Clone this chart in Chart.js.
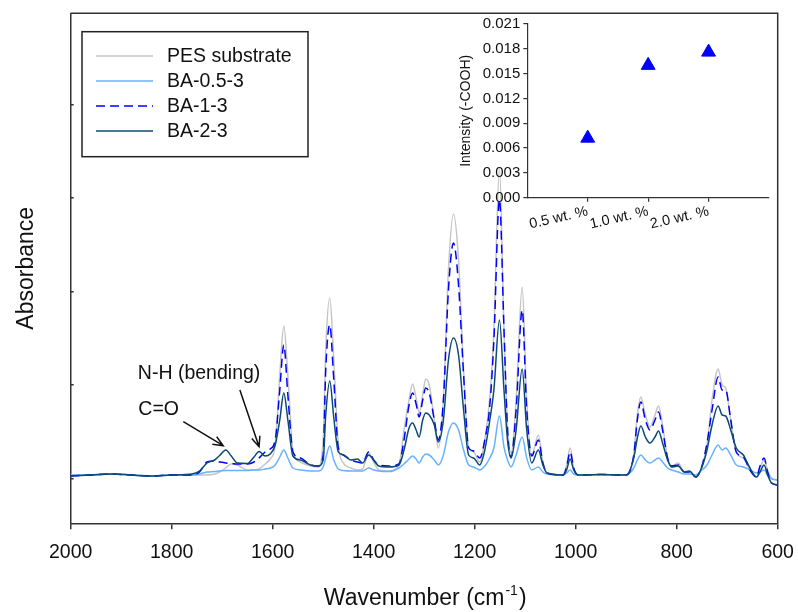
<!DOCTYPE html>
<html>
<head>
<meta charset="utf-8">
<script src="https://cdn.jsdelivr.net/npm/chart.js@4.4.1/dist/chart.umd.min.js"></script>
<style>
  html, body { margin: 0; padding: 0; background: #fff; }
  #wrap { position: relative; width: 798px; height: 612px; }
  #main { position: absolute; left: 0; top: 0; }
  #inset { position: absolute; left: 420px; top: 0; }
</style>
</head>
<body>
<div id="wrap">
  <canvas id="main" width="798" height="612"></canvas>
  <canvas id="inset" width="360" height="240"></canvas>
</div>
<script>
// FTIR spectra (absorbance, arbitrary units)
const wavenumbers = [2000,1960,1920,1880,1840,1800,1760,1745,1730,1715,1705,1693,1682,1670,1650,1637,1627,1615,1605,1595,
  1586,1578,1570,1560,1545,1525,1510,1500,1495,1487,1479,1470,1460,1445,1432,1422,1410,1400,1390,1370,
  1350,1340,1330,1323,1316,1310,1303,1297,1290,1280,1272,1262,1252,1242,1232,1222,1212,1202,1190,1180,
  1170,1162,1151,1142,1135,1128,1118,1106,1097,1087,1074,1065,1057,1025,1018,1011,1004,995,950,900,
  885,878,871,862,853,843,836,828,818,810,797,785,775,762,750,740,730,718,710,703,
  693,682,668,655,642,635,627,620,612,600];

const pesSubstrate = [.005,.005,.006,.005,.004,.005,.005,.005,.005,.006,.008,.012,.016,.015,.010,.010,.011,.016,.021,.035,
  .105,.154,.105,.030,.018,.014,.013,.040,.130,.182,.120,.035,.017,.012,.010,.011,.027,.018,.010,.009,
  .015,.050,.080,.096,.082,.067,.085,.101,.095,.060,.032,.080,.210,.266,.220,.110,.033,.028,.018,.040,
  .083,.150,.312,.150,.055,.027,.080,.193,.080,.025,.045,.018,.007,.005,.015,.032,.012,.005,.0055,.005,
  .025,.065,.083,.065,.053,.065,.074,.055,.022,.014,.017,.008,.008,.003,.014,.035,.080,.111,.095,.092,
  .060,.027,.022,.010,.003,.012,.020,.010,.002,.000];

const ba05 = [.005,.005,.006,.005,.004,.005,.005,.006,.008,.0085,.009,.0095,.0095,.0095,.0095,.010,.010,.011,.012,.015,
  .023,.030,.022,.012,.010,.009,.009,.013,.022,.034,.020,.011,.0095,.009,.009,.009,.012,.010,.009,.0085,
  .012,.016,.021,.024,.021,.017,.023,.026,.025,.020,.015,.025,.048,.057,.050,.030,.015,.013,.010,.014,
  .022,.032,.064,.033,.020,.013,.025,.043,.022,.010,.013,.008,.006,.005,.007,.010,.006,.005,.0055,.005,
  .012,.020,.025,.020,.017,.020,.022,.018,.012,.010,.008,.006,.006,.005,.010,.015,.025,.035,.030,.032,
  .025,.015,.013,.010,.007,.008,.010,.005,.001,.000];

const ba1 = [.004,.005,.006,.005,.004,.005,.005,.008,.018,.019,.018,.017,.0165,.016,.016,.018,.022,.028,.031,.040,
  .090,.135,.085,.028,.022,.015,.014,.025,.110,.155,.100,.032,.025,.020,.018,.017,.028,.020,.015,.014,
  .016,.040,.075,.087,.076,.063,.080,.092,.087,.060,.040,.080,.190,.237,.195,.105,.032,.029,.022,.040,
  .075,.140,.280,.150,.050,.023,.070,.170,.070,.024,.040,.017,.007,.005,.013,.028,.012,.005,.0055,.005,
  .025,.060,.078,.060,.050,.060,.068,.050,.022,.014,.015,.008,.008,.003,.014,.037,.070,.103,.090,.090,
  .060,.028,.023,.010,.003,.014,.022,.008,-.003,-.005];

const ba2 = [.004,.005,.006,.005,.004,.005,.006,.009,.017,.020,.0245,.030,.024,.017,.0165,.023,.0285,.024,.026,.035,
  .060,.087,.060,.024,.020,.015,.014,.020,.065,.099,.062,.028,.025,.020,.021,.017,.025,.020,.014,.013,
  .015,.030,.052,.057,.050,.043,.060,.067,.065,.055,.038,.060,.120,.142,.125,.070,.025,.022,.015,.030,
  .060,.090,.160,.090,.040,.022,.050,.111,.050,.017,.030,.015,.007,.005,.010,.021,.010,.005,.0055,.005,
  .022,.042,.054,.043,.037,.043,.049,.037,.020,.013,.014,.008,.009,.003,.013,.030,.055,.074,.065,.064,
  .050,.032,.025,.012,.003,.008,.015,.005,-.003,-.005];

const seriesNames = ['PES substrate', 'BA-0.5-3', 'BA-1-3', 'BA-2-3'];
const seriesValues = [pesSubstrate, ba05, ba1, ba2];
const seriesColors = ['#c4c4c4', '#66b2ff', '#0000ff', '#0a4a73'];
const seriesDash = [[], [], [9, 5], []];
const seriesOrder = [4, 3, 2, 1];

const xTicks = [2000, 1800, 1600, 1400, 1200, 1000, 800, 600];
const yTickValues = [0.0015, 0.095, 0.1885, 0.282, 0.3755];

// annotation labels (wavenumber, absorbance)
const notes = [
  { text: 'C=O', at: [1866, 0.070], from: [1777, 0.0583], to: [1698, 0.0343] },
  { text: 'N-H (bending)', at: [1867, 0.1067], from: [1665, 0.090], to: [1627, 0.0333] }
];

// inset
const loadings = ['0.5 wt. %', '1.0 wt. %', '2.0 wt. %'];
const coohIntensity = [0.0072, 0.0160, 0.0176];

const FONT = "'Liberation Sans', Arial, sans-serif";
const INK = '#111';
const AXIS = '#333';

const framePlugin = {
  id: 'frame',
  afterDraw(chart) {
    const { ctx, chartArea: a } = chart;
    ctx.save();
    ctx.strokeStyle = AXIS;
    ctx.lineWidth = 1.5;
    ctx.beginPath();
    ctx.moveTo(a.left, a.top);
    ctx.lineTo(a.right, a.top);
    ctx.lineTo(a.right, a.bottom);
    ctx.stroke();
    ctx.restore();
  }
};

const legendPlugin = {
  id: 'boxLegend',
  afterDraw(chart) {
    const { ctx, chartArea: a } = chart;
    const x0 = a.left + 11.3, y0 = a.top + 18.4;
    ctx.save();
    ctx.strokeStyle = '#222';
    ctx.lineWidth = 1.5;
    ctx.strokeRect(x0, y0, 226, 125);
    ctx.font = '19.5px ' + FONT;
    ctx.textBaseline = 'middle';
    ctx.fillStyle = INK;
    seriesNames.forEach((name, i) => {
      const y = y0 + 24.3 + 25 * i;
      ctx.strokeStyle = seriesColors[i];
      ctx.setLineDash(seriesDash[i]);
      ctx.beginPath();
      ctx.moveTo(x0 + 14, y);
      ctx.lineTo(x0 + 71, y);
      ctx.stroke();
      ctx.setLineDash([]);
      ctx.fillText(name, x0 + 85, y + 1);
    });
    ctx.restore();
  }
};

const notesPlugin = {
  id: 'notes',
  afterDraw(chart) {
    const { ctx } = chart;
    const sx = chart.scales.x, sy = chart.scales.y;
    const px = p => [sx.getPixelForValue(p[0]), sy.getPixelForValue(p[1])];
    ctx.save();
    ctx.font = '19.5px ' + FONT;
    ctx.fillStyle = INK;
    ctx.strokeStyle = INK;
    ctx.lineWidth = 1.5;
    ctx.textBaseline = 'middle';
    notes.forEach(n => {
      const [tx, ty] = px(n.at);
      ctx.fillText(n.text, tx, ty);
      const [x1, y1] = px(n.from);
      const [x2, y2] = px(n.to);
      const ang = Math.atan2(y2 - y1, x2 - x1);
      ctx.beginPath();
      ctx.moveTo(x1, y1);
      ctx.lineTo(x2, y2);
      ctx.moveTo(x2 - 11 * Math.cos(ang - 0.4), y2 - 11 * Math.sin(ang - 0.4));
      ctx.lineTo(x2, y2);
      ctx.lineTo(x2 - 11 * Math.cos(ang + 0.4), y2 - 11 * Math.sin(ang + 0.4));
      ctx.stroke();
    });
    ctx.restore();
  }
};

// x title with a real superscript
const xTitlePlugin = {
  id: 'xTitle',
  afterDraw(chart) {
    const { ctx, chartArea: a } = chart;
    const main = 'Wavenumber (cm', sup = '-1', close = ')';
    ctx.save();
    ctx.fillStyle = INK;
    ctx.textBaseline = 'alphabetic';
    const big = '23px ' + FONT, small = '14px ' + FONT;
    ctx.font = big;
    const w1 = ctx.measureText(main).width, w3 = ctx.measureText(close).width;
    ctx.font = small;
    const w2 = ctx.measureText(sup).width;
    let x = (a.left + a.right) / 2 - (w1 + w2 + w3) / 2;
    const base = chart.scales.x.top + 82;
    ctx.font = big;
    ctx.fillText(main, x, base);
    x += w1;
    ctx.font = small;
    ctx.fillText(sup, x + 1, base - 10);
    x += w2 + 2;
    ctx.font = big;
    ctx.fillText(close, x, base);
    ctx.restore();
  }
};

new Chart(document.getElementById('main'), {
  type: 'line',
  data: {
    datasets: seriesNames.map((name, i) => ({
      label: name,
      data: wavenumbers.map((w, j) => ({ x: w, y: seriesValues[i][j] })),
      borderColor: seriesColors[i],
      borderDash: seriesDash[i],
      order: seriesOrder[i]
    }))
  },
  options: {
    responsive: false,
    animation: false,
    devicePixelRatio: 1,
    layout: { padding: { top: 13.3, right: 20.3, left: 0, bottom: 0 } },
    plugins: { legend: { display: false }, tooltip: { enabled: false } },
    elements: {
      point: { radius: 0 },
      line: { borderWidth: 1.5, cubicInterpolationMode: 'monotone', fill: false }
    },
    scales: {
      x: {
        type: 'linear', reverse: true, min: 600, max: 2000,
        afterBuildTicks: s => { s.ticks = xTicks.map(v => ({ value: v })); },
        ticks: { callback: v => String(v), color: INK, font: { family: FONT, size: 19.5 }, padding: 12, maxRotation: 0 },
        grid: { drawOnChartArea: false, tickLength: 6, color: AXIS, lineWidth: 1.5 },
        border: { color: AXIS, width: 1.5 },
        afterFit: s => { s.height = 88.7; s.paddingLeft = 0; s.paddingRight = 0; }
      },
      y: {
        min: -0.0433, max: 0.4667,
        afterBuildTicks: s => { s.ticks = yTickValues.map(v => ({ value: v })); },
        ticks: { display: false },
        grid: { drawOnChartArea: false, tickLength: -3, color: AXIS, lineWidth: 1.5 },
        border: { color: AXIS, width: 1.5 },
        title: { display: true, text: 'Absorbance', color: INK, font: { family: FONT, size: 23 }, padding: { top: 13, bottom: 0 } },
        afterFit: s => { s.width = 70.7; }
      }
    }
  },
  plugins: [framePlugin, legendPlugin, notesPlugin, xTitlePlugin]
});

new Chart(document.getElementById('inset'), {
  type: 'scatter',
  data: {
    datasets: [{
      label: 'Intensity (-COOH)',
      data: loadings.map((_, i) => ({ x: i + 1, y: coohIntensity[i] })),
      pointStyle: 'triangle',
      pointRadius: 8,
      backgroundColor: '#0000ff',
      borderColor: '#0000ff',
      borderWidth: 1
    }]
  },
  options: {
    responsive: false,
    animation: false,
    devicePixelRatio: 1,
    layout: { padding: { left: 37, top: 24, right: 11, bottom: 0 } },
    plugins: { legend: { display: false }, tooltip: { enabled: false } },
    scales: {
      x: {
        type: 'linear', min: 0, max: 4,
        afterBuildTicks: s => { s.ticks = loadings.map((_, i) => ({ value: i + 1 })); },
        ticks: {
          callback: v => loadings[v - 1],
          minRotation: 13, maxRotation: 13, autoSkip: false,
          color: INK, font: { family: FONT, size: 14.5 }, padding: 1
        },
        grid: { drawOnChartArea: false, tickLength: 4, color: AXIS, lineWidth: 1.2 },
        border: { color: AXIS, width: 1.2 },
        afterFit: s => { s.height = 42.3; }
      },
      y: {
        min: 0, max: 0.021,
        ticks: { stepSize: 0.003, callback: v => v.toFixed(3), color: INK, font: { family: FONT, size: 15 }, padding: 3 },
        grid: { drawOnChartArea: false, tickLength: 4, color: AXIS, lineWidth: 1.2 },
        border: { color: AXIS, width: 1.2 },
        title: { display: true, text: 'Intensity (-COOH)', color: INK, font: { family: FONT, size: 14 }, padding: { top: 1, bottom: 0 } },
        afterFit: s => { s.width = 70.3; }
      }
    }
  }
});
</script>
</body>
</html>
